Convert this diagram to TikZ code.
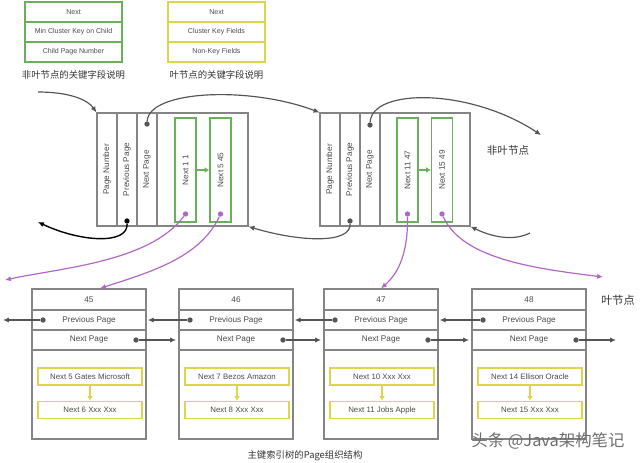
\documentclass[tikz,border=0pt]{standalone}
\usepackage{fontspec}
\setmainfont{Liberation Sans}
\newfontfamily\cjk{Noto Sans CJK SC}
\usetikzlibrary{arrows.meta}
\definecolor{cBox}{HTML}{858585}
\definecolor{cInk}{HTML}{4A4A4A}
\definecolor{cArr}{HTML}{555555}
\definecolor{cGreen}{HTML}{6AAF5C}
\definecolor{cYellow}{HTML}{DDD54A}
\definecolor{cPurple}{HTML}{B065C8}
\definecolor{cMark}{HTML}{6E6E6E}

\begin{document}
\begin{tikzpicture}[
  x=0.03cm,y=-0.03cm,
  font=\fontsize{7}{8}\selectfont,
  ar/.style={-{Latex[length=5pt,width=4.5pt]},line width=1pt,color=cArr},
  arK/.style={-{Latex[length=5pt,width=4.5pt]},line width=1.2pt,color=black},
  arP/.style={-{Latex[length=5pt,width=4.5pt]},line width=1pt,color=cPurple},
  arG/.style={-{Latex[length=4pt,width=5pt]},line width=1.8pt,color=cGreen},
  arY/.style={-{Latex[length=4pt,width=5pt]},line width=1.8pt,color=cYellow},
  dot/.style={circle,fill=cArr,inner sep=0pt,minimum size=0.16cm},
  dotP/.style={circle,fill=cPurple,inner sep=0pt,minimum size=0.16cm},
  legG/.style={draw=cGreen,line width=1.2pt,text=cInk,inner sep=0pt,
               minimum width=2.91cm,minimum height=0.6cm,font=\fontsize{6}{7}\selectfont},
  legY/.style={legG,draw=cYellow},
  capt/.style={font=\cjk\fontsize{8}{9}\selectfont,text=black!80},
  nl/.style={draw=cBox,line width=1pt,inner sep=0pt,minimum height=3.39cm},
  col/.style={draw=cBox,line width=1pt,text=cInk,inner sep=0pt,
              minimum width=0.6cm,minimum height=3.39cm},
  key/.style={draw=cGreen,line width=1.2pt,text=cInk,inner sep=0pt,
              minimum width=0.63cm,minimum height=3.12cm},
  leaf/.style={draw=cBox,line width=1pt,inner sep=0pt,
               minimum width=3.42cm,minimum height=4.5cm},
  row/.style={draw=cBox,line width=1pt,text=cInk,inner sep=0pt,
              minimum width=3.42cm,minimum height=0.6cm},
  rec/.style={draw=cYellow,line width=1.2pt,text=cInk,inner sep=0pt,
              minimum width=3.12cm,minimum height=0.51cm,font=\fontsize{6.7}{7}\selectfont},
]
\useasboundingbox (0,0) rectangle (640,462);

% ====================================================== legend
\node[legG] (gNext)  at (73.5,12) {Next};
\node[legG] (gMin)   at (73.5,32) {Min Cluster Key on Child};
\node[legG] (gChild) at (73.5,52) {Child Page Number};
\node[capt] (gCap)   at (73.5,75) {非叶节点的关键字段说明};

\node[legY] (yNext) at (216.5,12) {Next};
\node[legY] (yKey)  at (216.5,32) {Cluster Key Fields};
\node[legY] (yNon)  at (216.5,52) {Non-Key Fields};
\node[capt] (yCap)  at (216.5,75) {叶节点的关键字段说明};

% ====================================================== non-leaf pages
% -- page 1
\node[nl,minimum width=4.53cm] (n1) at (172.5,169.5) {};
\node[col] (n1num)  at (107,169.5) {\rotatebox{90}{Page Number}};
\node[col] (n1prev) at (127,169.5) {\rotatebox{90}{Previous Page}};
\node[col] (n1next) at (147,169.5) {\rotatebox{90}{Next Page}};
\node[key] (n1k1) at (185.5,170) {\rotatebox{90}{Next 1 1}};
\node[key] (n1k2) at (220.5,170) {\rotatebox{90}{Next 5 45}};
\draw[arG] (n1k1.east) -- (n1k2.west);

% -- page 2
\node[nl,minimum width=4.5cm] (n2) at (395,169.5) {};
\node[col] (n2num)  at (330,169.5) {\rotatebox{90}{Page Number}};
\node[col] (n2prev) at (350,169.5) {\rotatebox{90}{Previous Page}};
\node[col] (n2next) at (370,169.5) {\rotatebox{90}{Next Page}};
\node[key] (n2k1) at (407.5,170) {\rotatebox{90}{Next 11 47}};
\node[key] (n2k2) at (442,170) {\rotatebox{90}{Next 15 49}};
\draw[arG] (n2k1.east) -- (n2k2.west);

\node[capt,font=\cjk\fontsize{9}{10}\selectfont] (nlTag) at (508,150) {非叶节点};

% pointer dots
\node[dot] (n1nd) at (147,124) {};
\node[dot,fill=black] (n1pd) at (127,221) {};
\node[dot] (n2nd) at (370,125) {};
\node[dot] (n2pd) at (350,221) {};
\node[dotP] (n1d1) at (185.5,214) {};
\node[dotP] (n1d2) at (220.5,214) {};
\node[dotP] (n2d1) at (407.5,214) {};
\node[dotP] (n2d2) at (442,214) {};

% free ends
\coordinate (inL)  at (38,92);
\coordinate (outR) at (541,135);
\coordinate (outL) at (38,222);
\coordinate (inR)  at (530,233);
\coordinate (pOut) at (5,280);
\coordinate (pOut2) at (603,277);

% ====================================================== leaf pages
% -- 45
\node[leaf] (l45) at (89,364) {};
\node[row,minimum height=0.63cm] (l45h) at (89,299.5) {45};
\node[row] (l45p) at (89,320) {Previous Page};
\node[row] (l45n) at (89,340) {Next Page};
\node[rec] (l45r1) at (90,376.5) {Next 5 Gates Microsoft};
\node[rec] (l45r2) at (90,410) {Next 6 Xxx Xxx};
\draw[arY] (l45r1.south) -- (l45r2.north);

% -- 46
\node[leaf] (l46) at (236,364) {};
\node[row,minimum height=0.63cm] (l46h) at (236,299.5) {46};
\node[row] (l46p) at (236,320) {Previous Page};
\node[row] (l46n) at (236,340) {Next Page};
\node[rec] (l46r1) at (237,376.5) {Next 7 Bezos Amazon};
\node[rec] (l46r2) at (237,410) {Next 8 Xxx Xxx};
\draw[arY] (l46r1.south) -- (l46r2.north);

% -- 47
\node[leaf] (l47) at (381,364) {};
\node[row,minimum height=0.63cm] (l47h) at (381,299.5) {47};
\node[row] (l47p) at (381,320) {Previous Page};
\node[row] (l47n) at (381,340) {Next Page};
\node[rec] (l47r1) at (382,376.5) {Next 10 Xxx Xxx};
\node[rec] (l47r2) at (382,410) {Next 11 Jobs Apple};
\draw[arY] (l47r1.south) -- (l47r2.north);

% -- 48
\node[leaf] (l48) at (529,364) {};
\node[row,minimum height=0.63cm] (l48h) at (529,299.5) {48};
\node[row] (l48p) at (529,320) {Previous Page};
\node[row] (l48n) at (529,340) {Next Page};
\node[rec] (l48r1) at (530,376.5) {Next 14 Ellison Oracle};
\node[rec] (l48r2) at (530,410) {Next 15 Xxx Xxx};
\draw[arY] (l48r1.south) -- (l48r2.north);

\node[capt,font=\cjk\fontsize{9.5}{10}\selectfont] (lfTag) at (618,300) {叶节点};

% page chain
\draw[ar] (inL) .. controls (70,92) and (88,100) .. (n1.north west);
\draw[ar] (n1nd) .. controls (149,90) and (250,86) .. (n2.north west);
\draw[ar] (n2nd) .. controls (372,88) and (470,88) .. (outR);
\draw[arK] (n1pd) .. controls (128,245) and (80,242) .. (outL);
\draw[ar] (n2pd) .. controls (351,244) and (300,242) .. (n1.south east);
\draw[ar] (inR) .. controls (512,242) and (490,236) .. (n2.south east);

% child pointers
\draw[arP] (n1d1) .. controls (150,262) and (60,268) .. (pOut);
\draw[arP] (n1d2) .. controls (200,258) and (150,272) .. ([xshift=0.33cm]l45.north);
\draw[arP] (n2d1) .. controls (408,250) and (400,272) .. (l47.north);
\draw[arP] (n2d2) .. controls (462,258) and (530,268) .. (pOut2);

% leaf chain
\node[dot] (l45pd) at (43,320) {};
\node[dot] (l46pd) at (190,320) {};
\node[dot] (l47pd) at (335,320) {};
\node[dot] (l48pd) at (483,320) {};
\node[dot] (l45nd) at (136,340) {};
\node[dot] (l46nd) at (283,340) {};
\node[dot] (l47nd) at (428,340) {};
\node[dot] (l48nd) at (576,340) {};
\coordinate (lfL) at (3,320);
\coordinate (lfR) at (616,340);

\draw[ar] (l45pd) -- (lfL);
\draw[ar] (l46pd) -- ([xshift=1pt]l45p.east);
\draw[ar] (l47pd) -- ([xshift=1pt]l46p.east);
\draw[ar] (l48pd) -- ([xshift=1pt]l47p.east);
\draw[ar] (l45nd) -- ([xshift=-2pt]l46n.west);
\draw[ar] (l46nd) -- ([xshift=-2pt]l47n.west);
\draw[ar] (l47nd) -- ([xshift=-2pt]l48n.west);
\draw[ar] (l48nd) -- (lfR);

% caption and mark
\node[capt] (title) at (305,456) {主键索引树的Page组织结构};
\node[font=\cjk\fontsize{14}{15}\selectfont,text=cMark] (wmark) at (548,441) {头条 @Java架构笔记};

\end{tikzpicture}
\end{document}
